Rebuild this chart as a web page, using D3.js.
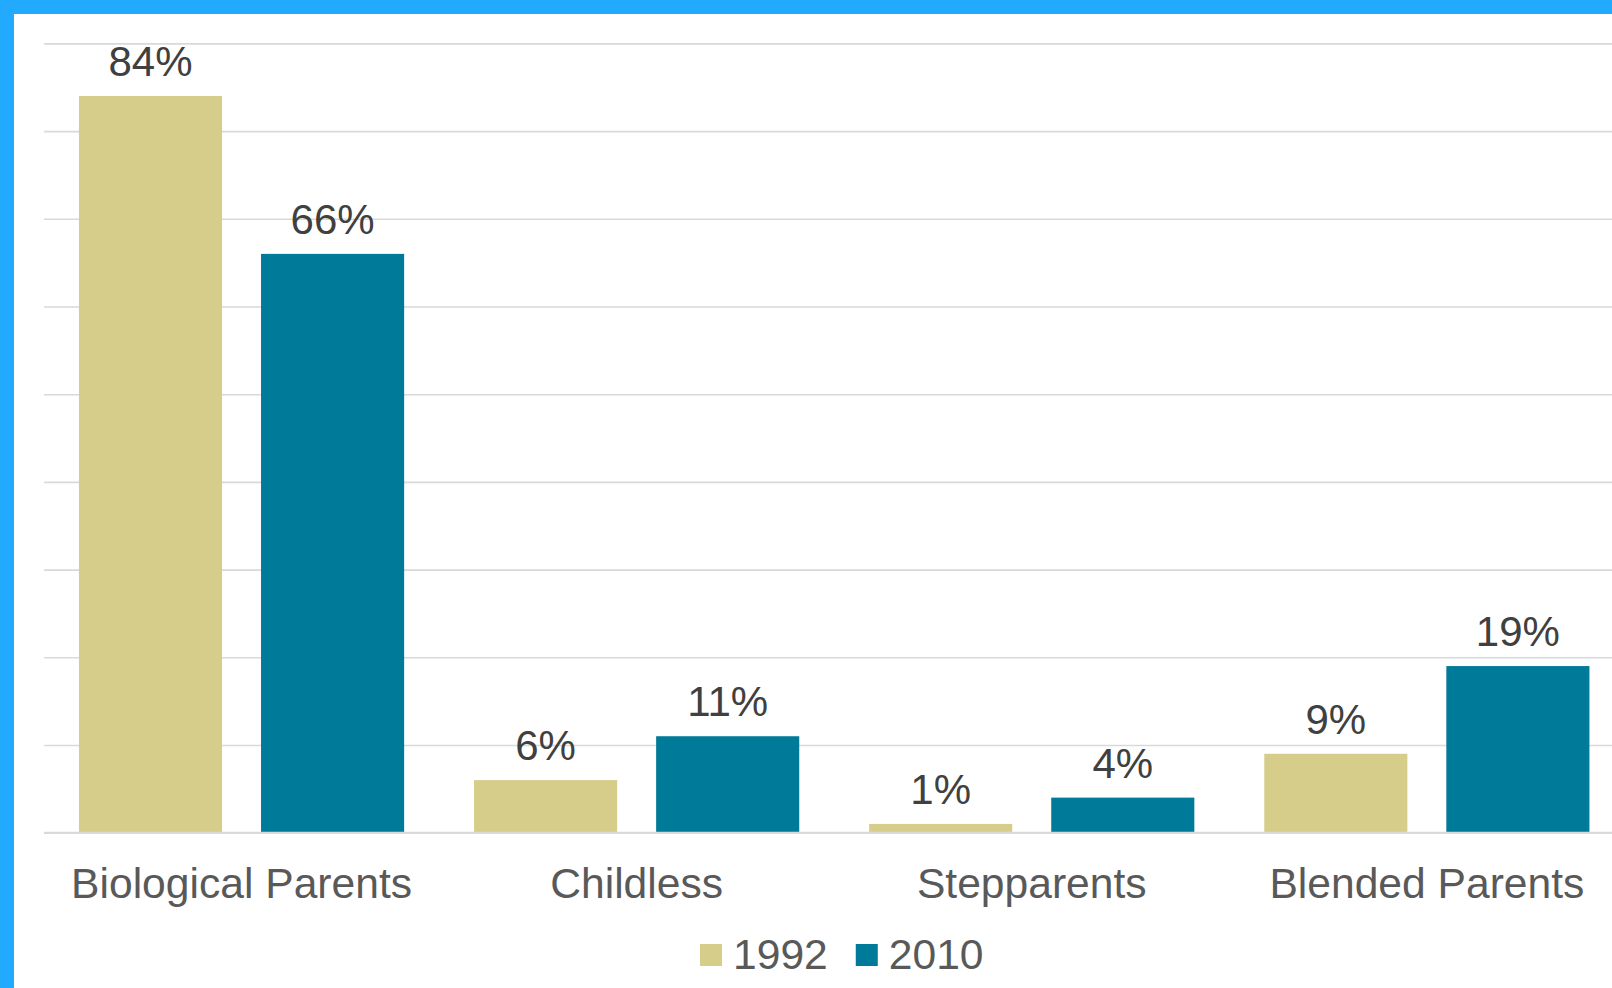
<!DOCTYPE html>
<html>
<head>
<meta charset="utf-8">
<script src="https://cdn.jsdelivr.net/npm/d3@7"></script>
<style>
  html, body { margin: 0; padding: 0; background: #ffffff; overflow: hidden; }
  svg { display: block; }
</style>
</head>
<body>
<svg id="chart" width="1612" height="988"></svg>
<script>
// Family structure shares, 1992 vs 2010
const categories = ["Biological Parents", "Childless", "Stepparents", "Blended Parents"];
const seriesNames = ["1992", "2010"];
const values1992 = [84, 6, 1, 9];
const values2010 = [66, 11, 4, 19];
const gridTicks = [0, 10, 20, 30, 40, 50, 60, 70, 80, 90];
const seriesColors = ["#D6CD8B", "#007A99"];

const W = 1612, H = 988;
const svg = d3.select("#chart");

// frame: blue band across the top and down the left side
svg.append("rect").attr("x", 0).attr("y", 0).attr("width", W).attr("height", H).attr("fill", "#ffffff");
svg.append("rect").attr("x", 0).attr("y", 0).attr("width", W).attr("height", 14).attr("fill", "#21AAFE");
svg.append("rect").attr("x", 0).attr("y", 0).attr("width", 14).attr("height", H).attr("fill", "#21AAFE");

const plot = { left: 44, right: 1624.4, top: 43.4, bottom: 832.7 };

const x = d3.scaleBand().domain(categories).range([plot.left, plot.right]).paddingInner(0).paddingOuter(0);
const xs = d3.scaleBand().domain(seriesNames).range([0, x.bandwidth()]).paddingInner(0.214).paddingOuter(0.192);
const y = d3.scaleLinear().domain([0, 90]).range([plot.bottom, plot.top]);

// horizontal gridlines
const yAxis = d3.axisLeft(y).tickValues(gridTicks).tickSize(-(plot.right - plot.left)).tickFormat("");
const gy = svg.append("g").attr("transform", `translate(${plot.left},0)`).call(yAxis);
gy.select(".domain").remove();
gy.selectAll(".tick line").attr("stroke", "#D9D9D9").attr("stroke-width", 1.6);

const rows = categories.map((c, i) => ({ cat: c, vals: [values1992[i], values2010[i]] }));

const groups = svg.append("g").selectAll("g").data(rows).join("g")
  .attr("transform", d => `translate(${x(d.cat)},0)`);

const bars = groups.selectAll("g.bar")
  .data(d => d.vals.map((v, j) => ({ name: seriesNames[j], v, j })))
  .join("g").attr("class", "bar");

bars.append("rect")
  .attr("x", d => xs(d.name))
  .attr("width", xs.bandwidth())
  .attr("y", d => y(d.v))
  .attr("height", d => y(0) - y(d.v))
  .attr("fill", d => seriesColors[d.j]);

bars.append("text")
  .attr("x", d => xs(d.name) + xs.bandwidth() / 2)
  .attr("y", d => y(d.v) - 20)
  .attr("text-anchor", "middle")
  .attr("font-family", "'Liberation Sans', Arial, sans-serif")
  .attr("font-size", 42)
  .attr("fill", "#404040")
  .text(d => d.v + "%");

// category axis
const xAxis = d3.axisBottom(x).tickSize(0).tickPadding(0);
const gx = svg.append("g").attr("transform", `translate(0,${plot.bottom})`).call(xAxis);
gx.select(".domain").remove();
gx.selectAll(".tick text")
  .attr("y", 65)
  .attr("dy", 0)
  .attr("font-family", "'Liberation Sans', Arial, sans-serif")
  .attr("font-size", 42.6)
  .attr("fill", "#595959");
svg.append("line")
  .attr("x1", plot.left).attr("x2", plot.right)
  .attr("y1", plot.bottom).attr("y2", plot.bottom)
  .attr("stroke", "#D9D9D9").attr("stroke-width", 2);

// legend
const legend = svg.append("g");
const sw = 22, gapText = 11, gapItem = 28;
let cursor = 0;
seriesNames.forEach((name, i) => {
  const item = legend.append("g").attr("transform", `translate(${cursor},0)`);
  item.append("rect").attr("x", 0).attr("y", -25).attr("width", sw).attr("height", sw).attr("fill", seriesColors[i]);
  const t = item.append("text")
    .attr("x", sw + gapText).attr("y", 0)
    .attr("font-family", "'Liberation Sans', Arial, sans-serif")
    .attr("font-size", 42.6)
    .attr("fill", "#595959")
    .text(name);
  cursor += sw + gapText + t.node().getComputedTextLength() + gapItem;
});
legend.attr("transform", `translate(${700},969)`);
</script>
</body>
</html>
